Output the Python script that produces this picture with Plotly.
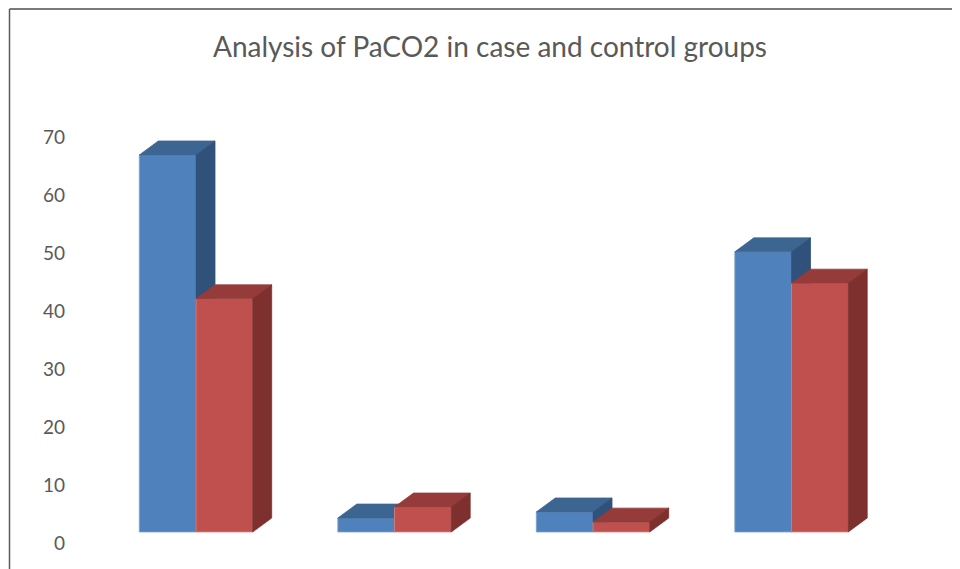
import plotly.graph_objects as go

# ---- data ----
categories = ["Group 1", "Group 2", "Group 3", "Group 4"]
series_names = ["Case", "Control"]
case_values = [65.0, 2.4, 3.45, 48.3]
control_values = [40.2, 4.3, 1.7, 42.9]
y_tick_values = [0, 10, 20, 30, 40, 50, 60, 70]
title_text = "Analysis of PaCO2 in case and control groups"

# ---- geometry / style (figure pixels; page adds an 8px body margin) ----
W, H = 952, 561
ML, MR, MT, MB = 72, 20, 92, 4
px_per_x = 198.5
px_per_y = 5.8
plot_w = W - ML - MR
plot_h = H - MT - MB
x_min = -(188 - ML) / px_per_x
x_max = x_min + plot_w / px_per_x
y_min = -((H - MB) - 535) / px_per_y
y_max = y_min + plot_h / px_per_y

bar_w = 56.7 / px_per_x
base = 11 / px_per_y        # bars sit a little behind the floor's front edge
dx = 19 / px_per_x          # oblique depth offset
dy = 14 / px_per_y

colors = {
    "Case": ("#4F81BD", "#3C6592", "#30527A", "#7FA3D0"),
    "Control": ("#C0504D", "#953B39", "#7D302E", "#D98583"),
}

fig = go.Figure()


def faces(values, offset):
    front_x, front_y, top_x, top_y, side_x, side_y = [], [], [], [], [], []
    for i, v in enumerate(values):
        x0 = i + offset
        x1 = x0 + bar_w
        y0 = base
        y1 = base + v
        front_x += [x0, x1, x1, x0, x0, None]
        front_y += [y0, y0, y1, y1, y0, None]
        top_x += [x0, x1, x1 + dx, x0 + dx, x0, None]
        top_y += [y1, y1, y1 + dy, y1 + dy, y1, None]
        side_x += [x1, x1 + dx, x1 + dx, x1, x1, None]
        side_y += [y0, y0 + dy, y1 + dy, y1, y0, None]
    return (front_x, front_y), (top_x, top_y), (side_x, side_y)


for name, vals, off in [("Case", case_values, -bar_w), ("Control", control_values, 0.0)]:
    front, top, side = faces(vals, off)
    c_front, c_top, c_side, c_edge = colors[name]
    for (xs, ys), fc, lc in [(front, c_front, c_edge), (top, c_top, c_top), (side, c_side, c_side)]:
        fig.add_trace(go.Scatter(
            x=xs, y=ys, mode="lines", fill="toself", fillcolor=fc,
            line=dict(color=lc, width=0.8), name=name, showlegend=False,
            hoverinfo="skip",
        ))


def px_to_paper_x(px):
    return (px - ML) / plot_w


def px_to_paper_y(py):
    return ((H - MB) - py) / plot_h


# chart border (left and top edges visible in the crop)
fig.add_shape(type="line", xref="paper", yref="paper",
              x0=px_to_paper_x(1.5), x1=px_to_paper_x(W + 5),
              y0=px_to_paper_y(1), y1=px_to_paper_y(1),
              line=dict(color="#7A7A7A", width=2))
fig.add_shape(type="line", xref="paper", yref="paper",
              x0=px_to_paper_x(1.5), x1=px_to_paper_x(1.5),
              y0=px_to_paper_y(1), y1=px_to_paper_y(H + 5),
              line=dict(color="#5A5A5A", width=1.5))

fig.update_layout(
    width=W, height=H,
    margin=dict(l=ML, r=MR, t=MT, b=MB, pad=0),
    paper_bgcolor="white", plot_bgcolor="white",
    showlegend=False,
    title=dict(text=title_text, x=(482 / W), xanchor="center",
               y=1 - 39 / H, yanchor="middle", yref="container",
               font=dict(family="Lato, Open Sans, sans-serif", size=28, color="#595959")),
    xaxis=dict(range=[x_min, x_max], showgrid=False, zeroline=False,
               showticklabels=False, showline=False, ticks=""),
    yaxis=dict(range=[y_min, y_max], showgrid=False, zeroline=False,
               showline=False, tickvals=y_tick_values, ticks="",
               ticklabelstandoff=14,
               tickfont=dict(family="Lato, Open Sans, sans-serif", size=19, color="#595959")),
)

fig.write_html("out.html")
